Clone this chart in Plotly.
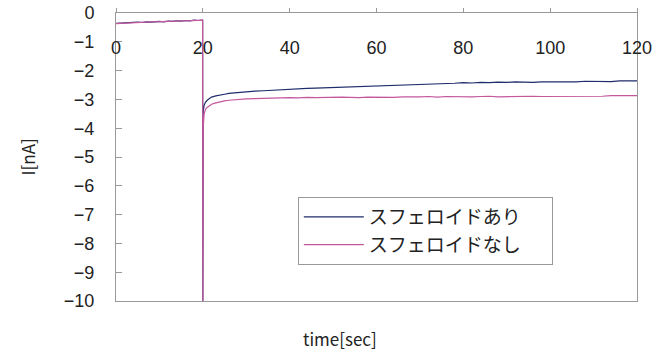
import plotly.graph_objects as go

time_s = [0, 1, 2, 3, 4, 5, 6, 7, 8, 9, 10, 11, 12, 13, 14, 15, 16, 17, 18, 19, 19.95,
          20.0, 20.1, 20.3, 20.6, 21, 21.5, 22, 23, 24, 25, 26, 28,
          30, 32, 34, 36, 38, 40, 42, 44, 46, 48, 50, 52, 54, 56, 58,
          60, 62, 64, 66, 68, 70, 72, 74, 76, 78, 80, 82, 84, 86, 88,
          90, 92, 94, 96, 98, 100, 102, 104, 106, 108, 110, 112, 114, 116, 118, 120]

with_spheroid = [-0.36, -0.35, -0.34, -0.35, -0.33, -0.32, -0.33, -0.31, -0.32, -0.30,
                 -0.29, -0.31, -0.28, -0.29, -0.27, -0.28, -0.26, -0.27, -0.25, -0.26, -0.25,
                 -10.0, -3.40, -3.20, -3.10, -3.03, -2.97, -2.92, -2.88, -2.84, -2.82, -2.79, -2.76,
                 -2.73, -2.71, -2.70, -2.68, -2.67, -2.65, -2.64, -2.62, -2.61, -2.60, -2.59, -2.58, -2.56, -2.57, -2.54,
                 -2.53, -2.54, -2.52, -2.51, -2.50, -2.49, -2.48, -2.46, -2.47, -2.44, -2.42, -2.43, -2.41, -2.42, -2.40,
                 -2.41, -2.39, -2.40, -2.41, -2.39, -2.39, -2.40, -2.38, -2.39, -2.37, -2.38, -2.37, -2.38, -2.36, -2.37, -2.36]

without_spheroid = [-0.37, -0.36, -0.35, -0.34, -0.34, -0.33, -0.32, -0.32, -0.31, -0.31,
                    -0.30, -0.30, -0.29, -0.28, -0.28, -0.27, -0.27, -0.26, -0.26, -0.25, -0.25,
                    -10.0, -3.95, -3.50, -3.35, -3.28, -3.22, -3.17, -3.12, -3.08, -3.05, -3.03, -3.00,
                    -2.98, -2.97, -2.96, -2.96, -2.95, -2.94, -2.95, -2.93, -2.94, -2.93, -2.94, -2.92, -2.93, -2.94, -2.92,
                    -2.93, -2.92, -2.93, -2.91, -2.92, -2.91, -2.90, -2.92, -2.90, -2.91, -2.90, -2.91, -2.90, -2.89, -2.91,
                    -2.90, -2.91, -2.90, -2.89, -2.90, -2.90, -2.89, -2.90, -2.88, -2.89, -2.88, -2.89, -2.87, -2.88, -2.87, -2.87]

x_ticks = [0, 20, 40, 60, 80, 100, 120]
y_ticks = [0, -1, -2, -3, -4, -5, -6, -7, -8, -9, -10]

pad = "\u00a0" * 6

fig = go.Figure()
fig.add_trace(go.Scatter(x=time_s, y=with_spheroid, mode="lines",
                         name="スフェロイドあり" + pad, legendgroup="a", legendrank=1,
                         line=dict(color="#1e2d6b", width=1.2)))
fig.add_trace(go.Scatter(x=time_s, y=without_spheroid, mode="lines",
                         name="スフェロイドなし" + pad, legendgroup="b", legendrank=2,
                         line=dict(color="#c4579e", width=1.2)))

num_font = dict(family="Liberation Sans, Arial, sans-serif", size=18, color="#222")
cjk = "Noto Sans CJK JP, sans-serif"

fig.update_layout(
    width=659, height=350,
    margin=dict(l=116, r=22, t=13, b=49),
    paper_bgcolor="white", plot_bgcolor="white",
    showlegend=True,
    legend=dict(x=0.349, y=0.361, xanchor="left", yanchor="top",
                bordercolor="#999", borderwidth=1, bgcolor="white",
                font=dict(family=cjk, size=19, color="#222"),
                tracegroupgap=17, traceorder="normal", itemwidth=60),
    xaxis=dict(range=[0, 120], side="top", tickvals=x_ticks,
               showticklabels=False, automargin=False,
               ticks="outside", ticklen=4, tickcolor="#999",
               showline=True, linecolor="#999", linewidth=1, mirror=True,
               showgrid=False, zeroline=False),
    xaxis2=dict(range=[0, 120], overlaying="x", matches="x", anchor="free",
                position=0.925, side="bottom", tickvals=x_ticks,
                showticklabels=True, automargin=False, ticks="",
                showline=False, showgrid=False, zeroline=False, tickfont=num_font),
    yaxis=dict(range=[-10, 0], tickvals=y_ticks, automargin=False,
               ticktext=["0"] + ["\u2212" + str(-v) for v in y_ticks[1:]],
               ticks="inside", ticklen=6, tickcolor="#999",
               ticklabelstandoff=17,
               showline=True, linecolor="#999", linewidth=1, mirror=True,
               showgrid=False, zeroline=False, tickfont=num_font),
    annotations=[
        dict(text="time[sec]", xref="paper", yref="paper", x=0.43, y=-0.13,
             xanchor="center", yanchor="middle", showarrow=False,
             font=dict(family=cjk, size=17, color="#222")),
        dict(text="I[nA]", xref="paper", yref="paper", x=-0.17, y=0.5,
             xanchor="center", yanchor="middle", showarrow=False, textangle=-90,
             font=dict(family=cjk, size=17, color="#222")),
    ],
)

# invisible trace to activate the label axis
fig.add_trace(go.Scatter(x=[time_s[0]], y=[with_spheroid[0]], xaxis="x2", mode="markers",
                         marker=dict(opacity=0), showlegend=False, hoverinfo="skip"))

fig.write_html("out.html", config={"displayModeBar": False},
               post_script="document.body.style.margin='0';document.body.style.overflow='hidden';")
